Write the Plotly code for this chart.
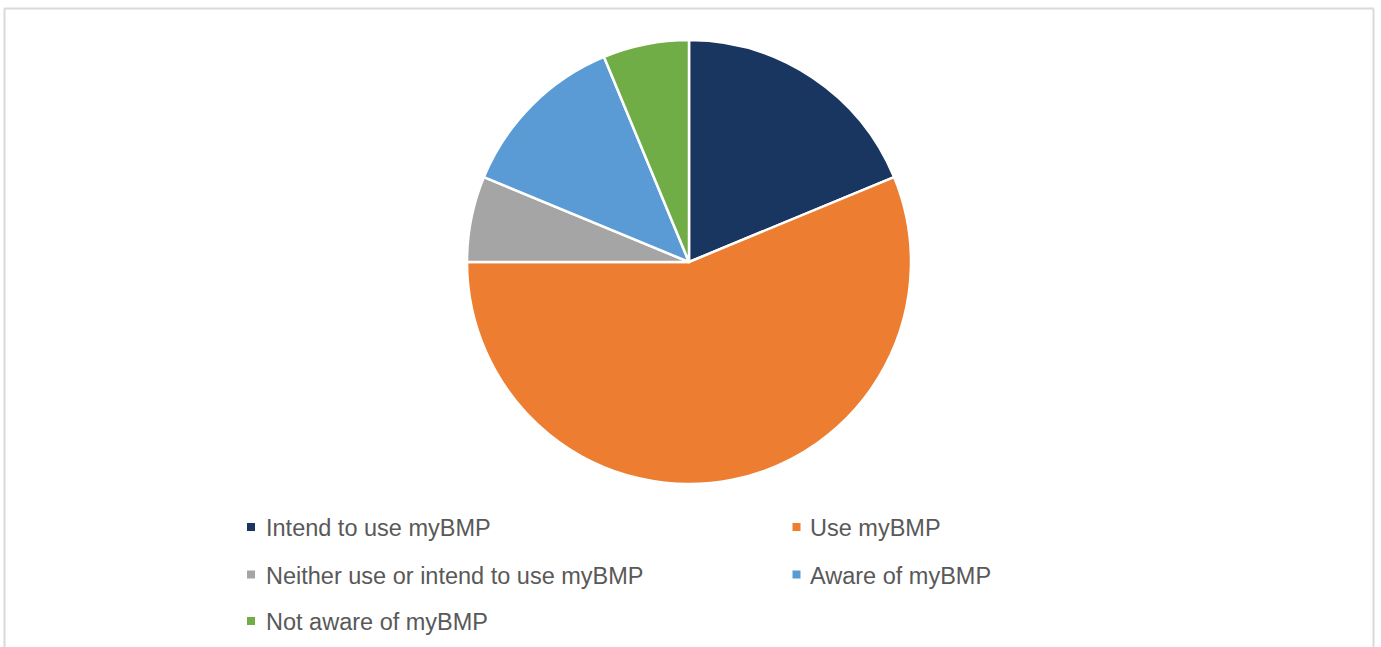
import plotly.graph_objects as go

categories = ["Intend to use myBMP", "Use myBMP", "Neither use or intend to use myBMP",
              "Aware of myBMP", "Not aware of myBMP"]
values = [3, 9, 1, 2, 1]
colors = ["#18365F", "#ED7D31", "#A5A5A5", "#5B9BD5", "#70AD47"]

W, H = 1381, 647
cx, cy, r = 689, 262, 222

fig = go.Figure()
fig.add_trace(go.Pie(
    labels=categories, values=values, sort=False, direction="clockwise", rotation=0,
    marker=dict(colors=colors, line=dict(color="white", width=2.5)),
    textinfo="none", hoverinfo="label+percent", showlegend=False,
    domain=dict(x=[(cx - r) / W, (cx + r) / W], y=[1 - (cy + r) / H, 1 - (cy - r) / H]),
))

# manual legend (two columns)
col_marker_x = [251, 796.5]
col_text_x = [264, 808]
row_y = [527, 574.5, 621]
shapes = []
annotations = []
for i, (lab, col) in enumerate(zip(categories, colors)):
    c, rw = i % 2, i // 2
    mx, my = col_marker_x[c], row_y[rw]
    shapes.append(dict(type="rect", xref="paper", yref="paper",
                       x0=(mx - 4) / W, x1=(mx + 4) / W,
                       y0=1 - (my + 4) / H, y1=1 - (my - 4) / H,
                       fillcolor=col, line=dict(width=0)))
    annotations.append(dict(text=lab, xref="paper", yref="paper",
                            x=col_text_x[c] / W, y=1 - (my + 1) / H,
                            xanchor="left", yanchor="middle", showarrow=False,
                            font=dict(family="Liberation Sans, Arial", size=23.5, color="#595959")))

# chart border (top, left, right)
shapes.append(dict(type="line", xref="paper", yref="paper", x0=4.5 / W, x1=4.5 / W,
                   y0=-0.05, y1=1 - 8.5 / H, line=dict(color="#D9D9D9", width=2)))
shapes.append(dict(type="line", xref="paper", yref="paper", x0=4.5 / W, x1=1373.5 / W,
                   y0=1 - 8.5 / H, y1=1 - 8.5 / H, line=dict(color="#D9D9D9", width=2)))
shapes.append(dict(type="line", xref="paper", yref="paper", x0=1373.5 / W, x1=1373.5 / W,
                   y0=-0.05, y1=1 - 8.5 / H, line=dict(color="#D9D9D9", width=2)))

fig.update_layout(
    width=W, height=H, margin=dict(l=0, r=0, t=0, b=0),
    paper_bgcolor="white", plot_bgcolor="white",
    shapes=shapes, annotations=annotations,
)
fig.write_html("out.html", config={"displayModeBar": False},
               post_script="document.body.style.margin='0';document.body.style.overflow='hidden';")
